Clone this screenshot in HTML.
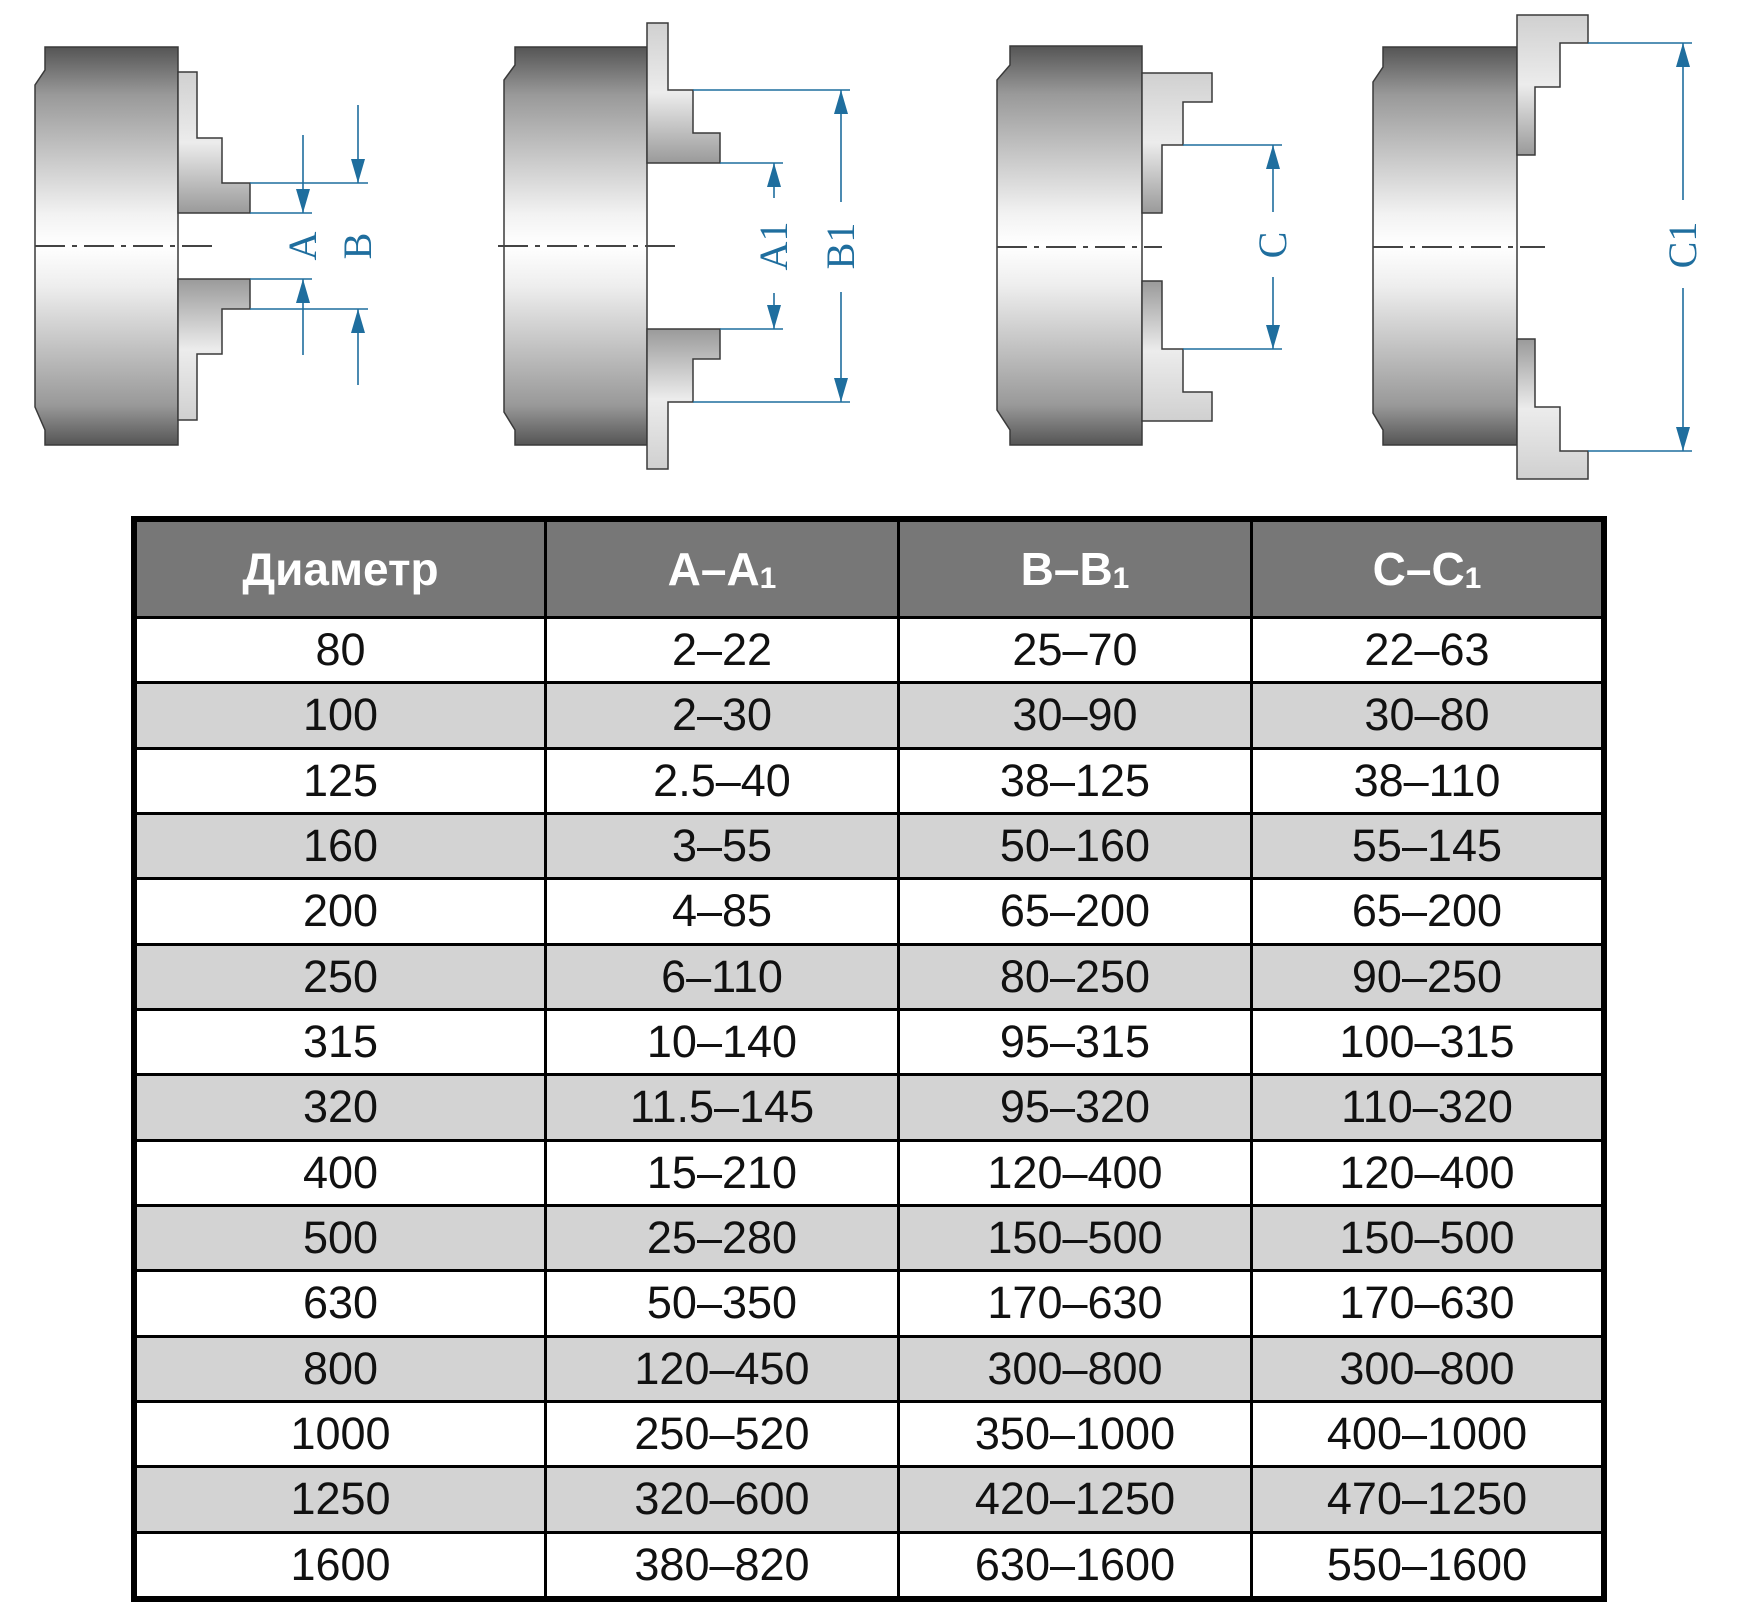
<!DOCTYPE html>
<html><head><meta charset="utf-8"><style>
body{margin:0;width:1744px;height:1620px;background:#fff;position:relative;overflow:hidden;font-family:"Liberation Sans",sans-serif}
svg{position:absolute;left:0;top:0}
.tbl{position:absolute;left:131px;top:516px;width:1464px;height:1074px;border:6px solid #000;background:#000;display:grid;grid-template-columns:407px 350px 350px 348px;grid-template-rows:94px repeat(15,1fr);gap:3px}
.tbl div{display:flex;align-items:center;justify-content:center;font-size:45px;color:#111;background:#fff}
.tbl .h{background:#777;color:#fff;font-weight:bold;font-size:46px}
sub{font-size:30px;position:relative;top:10px}
.tbl .g{background:#d3d3d3}
</style></head><body>
<svg width="1744" height="500" viewBox="0 0 1744 500">
<defs>
<linearGradient id="bg" x1="0" y1="0" x2="0" y2="1">
<stop offset="0" stop-color="#555"/><stop offset="0.12" stop-color="#999"/><stop offset="0.42" stop-color="#f2f2f2"/><stop offset="0.5" stop-color="#fff"/><stop offset="0.6" stop-color="#eee"/><stop offset="0.9" stop-color="#999"/><stop offset="1" stop-color="#555"/>
</linearGradient>
<linearGradient id="jg" x1="0" y1="0" x2="0" y2="1">
<stop offset="0" stop-color="#d0d0d0"/><stop offset="0.5" stop-color="#ececec"/><stop offset="1" stop-color="#9a9a9a"/>
</linearGradient>
<linearGradient id="jg2" x1="0" y1="0" x2="0" y2="1">
<stop offset="0" stop-color="#9a9a9a"/><stop offset="0.5" stop-color="#ececec"/><stop offset="1" stop-color="#d0d0d0"/>
</linearGradient>
</defs>
<g stroke="#3a3a3a" stroke-width="1.5">
<path d="M45 47H178V445H45V430L35 407V85L45 70Z" fill="url(#bg)"/>
<path d="M178 72H197V138H222V183H250V213H178Z" fill="url(#jg)"/>
<path d="M178 420H197V354H222V309H250V279H178Z" fill="url(#jg2)"/>
<path d="M515 47H647V445H515V430L504 412V80L515 65Z" fill="url(#bg)"/>
<path d="M647 23H668V90H693V133H720V163H647Z" fill="url(#jg)"/>
<path d="M647 469H668V402H693V359H720V329H647Z" fill="url(#jg2)"/>
<path d="M1010 46H1142V445H1010V430L997 410V80L1010 65Z" fill="url(#bg)"/>
<path d="M1142 73H1212V102H1183V145H1162V213H1142Z" fill="url(#jg)"/>
<path d="M1142 421H1212V392H1183V349H1162V281H1142Z" fill="url(#jg2)"/>
<path d="M1383 47H1517V445H1383V430L1373 413V82L1383 67Z" fill="url(#bg)"/>
<path d="M1517 15H1588V43H1560V87H1535V155H1517Z" fill="url(#jg)"/>
<path d="M1517 479H1588V451H1560V407H1535V339H1517Z" fill="url(#jg2)"/>
</g>
<g stroke="#444" stroke-width="2" stroke-dasharray="30 7 5 7">
<line x1="35" y1="246" x2="212" y2="246"/>
<line x1="498" y1="246" x2="680" y2="246"/>
<line x1="997" y1="247" x2="1162" y2="247"/>
<line x1="1373" y1="247" x2="1545" y2="247"/>
</g>
<g stroke="#1f6e9e" stroke-width="1.6" fill="none">
<path d="M250 183H368M250 213H312M250 279H312M250 309H368"/>
<path d="M303 135V213M303 279V355M358 105V183M358 309V385"/>
<path d="M693 90H850M720 163H783M720 329H783M693 402H850"/>
<path d="M774 163V198M774 293V329M841 90V202M841 292V402"/>
<path d="M1183 145H1282M1183 349H1282M1273 145V212M1273 277V349"/>
<path d="M1588 43H1692M1588 451H1692M1683 43V200M1683 288V451"/>
</g>
<g fill="#1f6e9e">
<path d="M303 213l-7-24h14z"/><path d="M303 279l-7 24h14z"/>
<path d="M358 183l-7-24h14z"/><path d="M358 309l-7 24h14z"/>
<path d="M774 163l-7 24h14z"/><path d="M774 329l-7-24h14z"/>
<path d="M841 90l-7 24h14z"/><path d="M841 402l-7-24h14z"/>
<path d="M1273 145l-7 24h14z"/><path d="M1273 349l-7-24h14z"/>
<path d="M1683 43l-7 24h14z"/><path d="M1683 451l-7-24h14z"/>
</g>
<g fill="#1f6e9e" font-family="Liberation Serif,serif" font-size="40" text-anchor="middle">
<text transform="translate(303 246) rotate(-90)" dy="13">A</text>
<text transform="translate(358 246) rotate(-90)" dy="13">B</text>
<text transform="translate(774 246) rotate(-90)" dy="13">A1</text>
<text transform="translate(841 246) rotate(-90)" dy="13">B1</text>
<text transform="translate(1273 245) rotate(-90)" dy="13">C</text>
<text transform="translate(1683 245) rotate(-90)" dy="13">C1</text>
</g>
</svg>
<div class="tbl">
<div class="h">Диаметр</div><div class="h">A–A<sub>1</sub></div><div class="h">B–B<sub>1</sub></div><div class="h">C–C<sub>1</sub></div>
<div>80</div><div>2–22</div><div>25–70</div><div>22–63</div>
<div class="g">100</div><div class="g">2–30</div><div class="g">30–90</div><div class="g">30–80</div>
<div>125</div><div>2.5–40</div><div>38–125</div><div>38–110</div>
<div class="g">160</div><div class="g">3–55</div><div class="g">50–160</div><div class="g">55–145</div>
<div>200</div><div>4–85</div><div>65–200</div><div>65–200</div>
<div class="g">250</div><div class="g">6–110</div><div class="g">80–250</div><div class="g">90–250</div>
<div>315</div><div>10–140</div><div>95–315</div><div>100–315</div>
<div class="g">320</div><div class="g">11.5–145</div><div class="g">95–320</div><div class="g">110–320</div>
<div>400</div><div>15–210</div><div>120–400</div><div>120–400</div>
<div class="g">500</div><div class="g">25–280</div><div class="g">150–500</div><div class="g">150–500</div>
<div>630</div><div>50–350</div><div>170–630</div><div>170–630</div>
<div class="g">800</div><div class="g">120–450</div><div class="g">300–800</div><div class="g">300–800</div>
<div>1000</div><div>250–520</div><div>350–1000</div><div>400–1000</div>
<div class="g">1250</div><div class="g">320–600</div><div class="g">420–1250</div><div class="g">470–1250</div>
<div>1600</div><div>380–820</div><div>630–1600</div><div>550–1600</div>
</div>
</body></html>
